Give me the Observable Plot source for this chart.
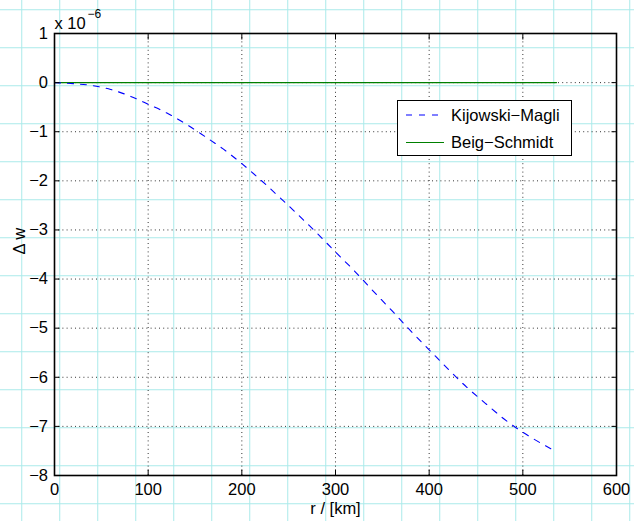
<!DOCTYPE html>
<html><head><meta charset="utf-8">
<script src="https://cdn.jsdelivr.net/npm/d3@7"></script>
<script src="https://cdn.jsdelivr.net/npm/@observablehq/plot@0.6"></script>
<style>
html,body{margin:0;padding:0;background:#fff;}
#wrap{position:relative;width:634px;height:521px;overflow:hidden;
 background-image: linear-gradient(to right, #aaeaea 0, #aaeaea 1.5px, transparent 1.5px), linear-gradient(to bottom, #aaeaea 0, #aaeaea 1.5px, transparent 1.5px);
 background-size:38px 38px; background-position:21.25px 9.25px;}
#wrap svg.plotsvg{position:absolute;left:0;top:0;background:transparent !important;}
.legend{position:absolute;left:397px;top:100px;width:173px;height:54px;border:1.5px solid #000;background:#fff;font:16.5px "Liberation Sans",Arial,sans-serif;color:#000;}
.legend svg{position:absolute;left:0;top:0;}
</style>
</head><body>
<div id="wrap"></div>
<script>
// Kijowski–Magli curve, Δw in units of 1e-6, r in km
const rKM = [0,20,40,60,80,100,120,140,160,180,200,220,240,260,280,300,320,340,360,380,400,420,440,460,480,500,520,536];
const dwKM = [0,-0.02,-0.06,-0.14,-0.27,-0.44,-0.62,-0.84,-1.09,-1.35,-1.65,-1.98,-2.33,-2.69,-3.06,-3.45,-3.83,-4.24,-4.64,-5.05,-5.44,-5.83,-6.20,-6.53,-6.85,-7.12,-7.35,-7.52];
// Beig–Schmidt curve
const rBS = [0,536];
const dwBS = [0,0];

const seriesNames = ["Kijowski\u2212Magli","Beig\u2212Schmidt"];
const seriesColors = ["#0000ff","#008000"];
const seriesDash = ["6,7","none"];

const xTicks = [0,100,200,300,400,500,600];
const yTicks = [1,0,-1,-2,-3,-4,-5,-6,-7,-8];
const xGrid = [100,200,300,400,500];
const yGrid = [0,-1,-2,-3,-4,-5,-6,-7];
const xLabel = "r / [km]";
const yLabel = "\u0394 w";
const expBase = "x 10";
const expPow = "\u22126";

const km = rKM.map((r,i)=>({r, v: dwKM[i]}));
const bs = rBS.map((r,i)=>({r, v: dwBS[i]}));
const minus = d => String(d).replace("-", "\u2212");
const font = "Liberation Sans, Arial, Helvetica, sans-serif";

const chart = Plot.plot({
  width: 634, height: 521,
  marginLeft: 54, marginRight: 18, marginTop: 33, marginBottom: 46,
  x: {domain:[0,600]},
  y: {domain:[-8,1]},
  style: {background:"transparent", fontFamily: font, fontSize:"16.5px", color:"#000", overflow:"visible"},
  marks: [
    Plot.gridX(xGrid, {stroke:"#000", strokeOpacity:0.8, strokeDasharray:"1,3.2", strokeWidth:1}),
    Plot.gridY(yGrid, {stroke:"#000", strokeOpacity:0.8, strokeDasharray:"1,3.2", strokeWidth:1}),
    Plot.line(bs, {x:"r", y:"v", stroke:seriesColors[1], strokeWidth:1.1}),
    Plot.line(km, {x:"r", y:"v", stroke:seriesColors[0], strokeWidth:1.1, strokeDasharray:seriesDash[0], curve:"monotone-x"}),
    Plot.frame({stroke:"#000", strokeWidth:1.6}),
    Plot.axisX(xTicks, {anchor:"bottom", tickSize:-5.5, tickPadding:13.5, label:null, fontSize:16.5}),
    Plot.axisX(xTicks, {anchor:"top", tickSize:-5.5, tickFormat:()=>"", label:null}),
    Plot.axisY(yTicks, {anchor:"left", tickSize:-5.5, tickPadding:12, label:null, tickFormat:minus, fontSize:16.5}),
    Plot.axisY(yTicks, {anchor:"right", tickSize:-5.5, tickFormat:()=>"", label:null}),
    Plot.text([xLabel], {frameAnchor:"bottom", dy:33, fontSize:16.5, lineAnchor:"middle"}),
    Plot.text([yLabel], {frameAnchor:"left", dx:-35, rotate:-90, fontSize:16.5, lineAnchor:"middle"}),
    Plot.text([expBase], {frameAnchor:"top-left", textAnchor:"start", lineAnchor:"bottom", dx:0, dy:-5, fontSize:16.5}),
    Plot.text([expPow], {frameAnchor:"top-left", textAnchor:"start", lineAnchor:"bottom", dx:33, dy:-16, fontSize:12})
  ]
});
chart.classList.add("plotsvg");
const wrap = document.getElementById("wrap");
wrap.appendChild(chart);

// legend
const leg = d3.select(wrap).append("div").attr("class","legend");
const ls = leg.append("svg").attr("width",173).attr("height",54);
seriesNames.forEach((name,i)=>{
  const y = 14 + i*27.5;
  ls.append("line").attr("x1",8).attr("x2",46).attr("y1",y).attr("y2",y)
    .attr("stroke",seriesColors[i]).attr("stroke-width",1.1)
    .attr("stroke-dasharray",seriesDash[i]==="none"?null:seriesDash[i]);
  ls.append("text").attr("x",53).attr("y",y).attr("dy","0.35em")
    .attr("font-family",font).attr("font-size",16.5).text(name);
});
</script>
</body></html>
